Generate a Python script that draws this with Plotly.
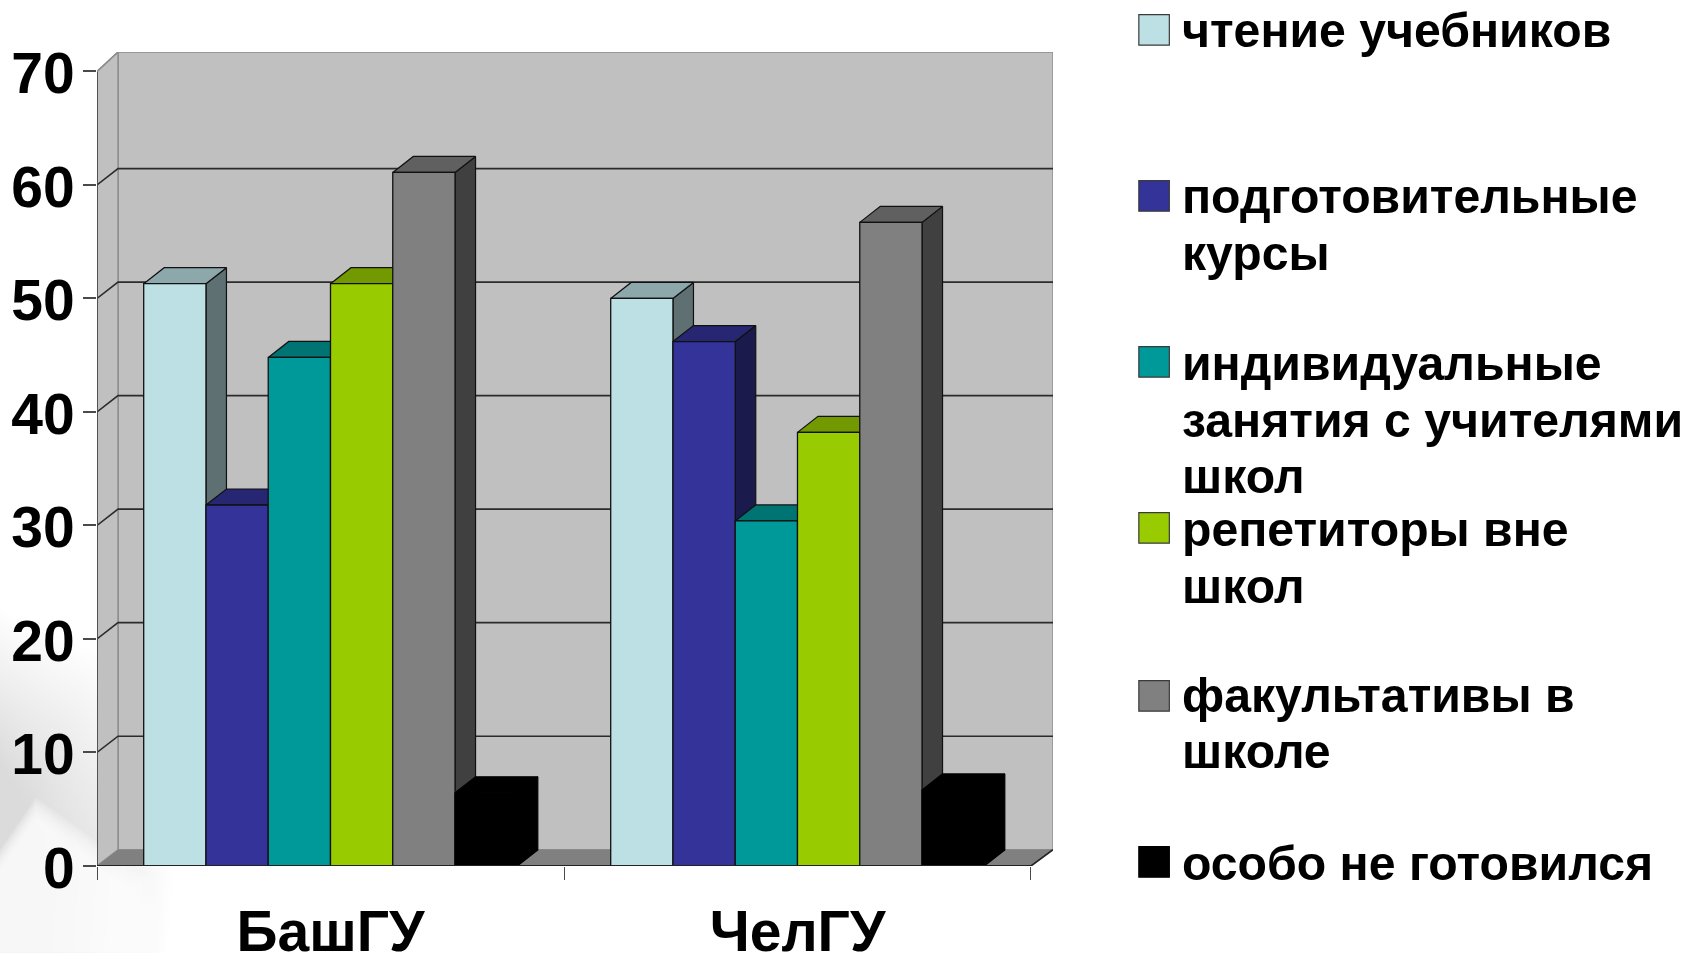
import plotly.graph_objects as go

# ---- data ----
universities = ["БашГУ", "ЧелГУ"]
y_ticks = [0, 10, 20, 30, 40, 50, 60, 70]
textbooks = [51.3, 50.0]
courses = [31.8, 46.2]
tutors_school = [44.8, 30.4]
tutors_outside = [51.3, 38.2]
electives = [61.1, 56.7]
no_prep = [6.45, 6.7]

series_names = ["чтение учебников", "подготовительные курсы",
                "индивидуальные занятия с учителями школ",
                "репетиторы вне школ", "факультативы в школе", "особо не готовился"]
series_values = [textbooks, courses, tutors_school, tutors_outside, electives, no_prep]
series_colors = ["#BCE0E4", "#333399", "#009999", "#99CC00", "#808080", "#000000"]

legend_lines = [
    ["чтение учебников"],
    ["подготовительные", "курсы"],
    ["индивидуальные", "занятия с учителями", "школ"],
    ["репетиторы вне", "школ"],
    ["факультативы в", "школе"],
    ["особо не готовился"],
]
legend_swatch_top = [15, 181, 347, 513, 681, 847]
legend_baselines = [[47, ], [213, 270], [380, 437, 493], [546, 603.5], [712, 768.5], [880]]

# ---- layout geometry (pixels) ----
W, H = 1685, 953
L, R, T, B = 97.0, 1052.7, 52.3, 866.3
PX_PER_X = (1030.7 - 97.0) / 2.0
PX_PER_Y = (866.3 - 71.7) / 70.0
X_MAX = (R - L) / PX_PER_X
Y_MAX = (B - T) / PX_PER_Y
DX_WALL = 21.0 / PX_PER_X
DY_WALL = 16.3 / PX_PER_Y
DX_BAR = 20.5 / PX_PER_X
DY_BAR = 16.0 / PX_PER_Y
BAR_W = 0.8 / 6


def px(x):
    return (x - L) / (R - L)


def py(y):
    return (B - y) / (B - T)


def shade(hex_color, k):
    r, g, b = [int(hex_color[i:i + 2], 16) for i in (1, 3, 5)]
    return f"rgb({r * k:.0f},{g * k:.0f},{b * k:.0f})"


fig = go.Figure()


def poly(xs, ys, fill, line="rgba(0,0,0,0)", width=1.0):
    fig.add_trace(go.Scatter(x=xs, y=ys, mode="lines", fill="toself", fillcolor=fill,
                             line=dict(color=line, width=width), hoverinfo="skip", showlegend=False))


def line(xs, ys, color="#2b2b2b", width=1.6):
    fig.add_trace(go.Scatter(x=xs, y=ys, mode="lines", line=dict(color=color, width=width),
                             hoverinfo="skip", showlegend=False))


# walls and floor
poly([DX_WALL, X_MAX, X_MAX, DX_WALL, DX_WALL], [DY_WALL, DY_WALL, Y_MAX, Y_MAX, DY_WALL], "#C0C0C0", "#8c8c8c", 1.4)
poly([0, DX_WALL, DX_WALL, 0, 0], [0, DY_WALL, Y_MAX, 70, 0], "#C0C0C0", "#8c8c8c", 1.4)
poly([0, DX_WALL, X_MAX, 2, 0], [0, DY_WALL, DY_WALL, 0, 0], "#808080")

# gridlines on the walls
for v in y_ticks[1:-1]:
    line([0, DX_WALL, X_MAX], [v, v + DY_WALL, v + DY_WALL])
line([2, X_MAX], [0, DY_WALL], "#222222", 1.6)
line([0, 0], [0, 70], "#4a4a4a", 1.8)
line([0, DX_WALL], [70, Y_MAX], "#8c8c8c", 1.4)

# 3-D tops and sides, drawn from the values
for s, (vals, col) in enumerate(zip(series_values, series_colors)):
    edge = "#000000" if col == "#000000" else "#111111"
    top_x, top_y, side_x, side_y = [], [], [], []
    for g, v in enumerate(vals):
        x0 = g + 0.5 - 0.4 + s * BAR_W
        x1 = x0 + BAR_W
        top_x += [x0, x0 + DX_BAR, x1 + DX_BAR, x1, x0, None]
        top_y += [v, v + DY_BAR, v + DY_BAR, v, v, None]
        side_x += [x1, x1 + DX_BAR, x1 + DX_BAR, x1, x1, None]
        side_y += [0, DY_BAR, v + DY_BAR, v, 0, None]
    poly(side_x, side_y, shade(col, 0.5), edge, 1.2)
    poly(top_x, top_y, shade(col, 0.75), edge, 1.2)

# front faces on an overlaid pair of axes, so they cover the neighbour's side
for name, vals, col in zip(series_names, series_values, series_colors):
    edge = "#000000" if col == "#000000" else "#111111"
    fig.add_trace(go.Bar(x=[0.5, 1.5], y=vals, name=name, xaxis="x2", yaxis="y2",
                         marker=dict(color=col, line=dict(color=edge, width=1.3)), showlegend=False))
fig.add_trace(go.Scatter(x=[0, 2], y=[0, 0], mode="lines", xaxis="x2", yaxis="y2",
                         line=dict(color="#222222", width=1.8), hoverinfo="skip", showlegend=False))

# pale slide decoration at lower left
shapes = []
LAYERS = 36
for i in range(LAYERS):
    k = i / (LAYERS - 1)
    xr = 185 - 135 * k
    ytop = 610 + 150 * k
    path = (f"M {px(0)} {py(ytop)} L {px(xr * 0.55)} {py(ytop + 45)} L {px(xr)} {py(ytop + 135)} "
            f"L {px(xr * 0.9)} {py(953)} L {px(0)} {py(953)} Z")
    shapes.append(dict(type="path", xref="paper", yref="paper", path=path, layer="below",
                       line=dict(width=0), fillcolor="rgba(120,120,120,0.0095)"))
for i in range(8):
    d = i * 3
    path = (f"M {px(36)} {py(798 + d)} L {px(150 - d)} {py(880 + d * 0.5)} L {px(165 - d)} {py(953)} "
            f"L {px(0)} {py(953)} L {px(0)} {py(850 + d)} Z")
    shapes.append(dict(type="path", xref="paper", yref="paper", path=path, layer="below",
                       line=dict(width=0), fillcolor="rgba(255,255,255,0.2)"))

# legend swatches
for top, col in zip(legend_swatch_top, series_colors):
    shapes.append(dict(type="rect", xref="paper", yref="paper", x0=px(1138.5), x1=px(1169),
                       y0=py(top + 30.5), y1=py(top), fillcolor=col,
                       line=dict(color="#3a3a3a" if col != "#000000" else "#000000", width=1.2)))

FONT = "Liberation Sans"
LEG_SIZE = 48.2
annotations = []
for lines, bases in zip(legend_lines, legend_baselines):
    for txt, base in zip(lines, bases):
        annotations.append(dict(text=f"<b>{txt}</b>", xref="paper", yref="paper", x=px(1181), y=py(base + 0.212 * LEG_SIZE + 1),
                                xanchor="left", yanchor="bottom", showarrow=False, borderpad=0,
                                font=dict(family=FONT, size=LEG_SIZE, color="#000000")))

axis_common = dict(showgrid=False, zeroline=False, showline=False)
fig.update_layout(
    width=W, height=H, margin=dict(l=L, r=W - R, t=T, b=H - B, autoexpand=False),
    paper_bgcolor="#FFFFFF", plot_bgcolor="rgba(0,0,0,0)",
    barmode="group", bargap=0.2, bargroupgap=0, showlegend=False,
    shapes=shapes, annotations=annotations,
    xaxis=dict(range=[0, X_MAX], tickmode="array", tickvals=[0.5, 1.5],
               ticktext=[f"<b>{u}</b>" for u in universities], ticks="",
               ticklabelstandoff=27,
               tickfont=dict(family=FONT, size=57, color="#000000"),
               minor=dict(tickmode="array", tickvals=[0, 1, 2], ticks="outside", ticklen=13, tickwidth=1.4, tickcolor="#4a4a4a"),
               **axis_common),
    yaxis=dict(range=[0, Y_MAX], tickmode="array", tickvals=y_ticks,
               ticktext=[f"<b>{v}</b>" for v in y_ticks], ticks="outside", ticklen=13, tickwidth=1.6, tickcolor="#4a4a4a",
               ticklabelstandoff=-3, ticklabelshift=2,
               tickfont=dict(family=FONT, size=57, color="#000000"), **axis_common),
    xaxis2=dict(range=[0, X_MAX], overlaying="x", visible=False, **axis_common),
    yaxis2=dict(range=[0, Y_MAX], overlaying="y", visible=False, **axis_common),
)

fig.write_html("out.html", config=dict(displayModeBar=False),
               post_script="document.body.style.margin='0';document.body.style.overflow='hidden';")
